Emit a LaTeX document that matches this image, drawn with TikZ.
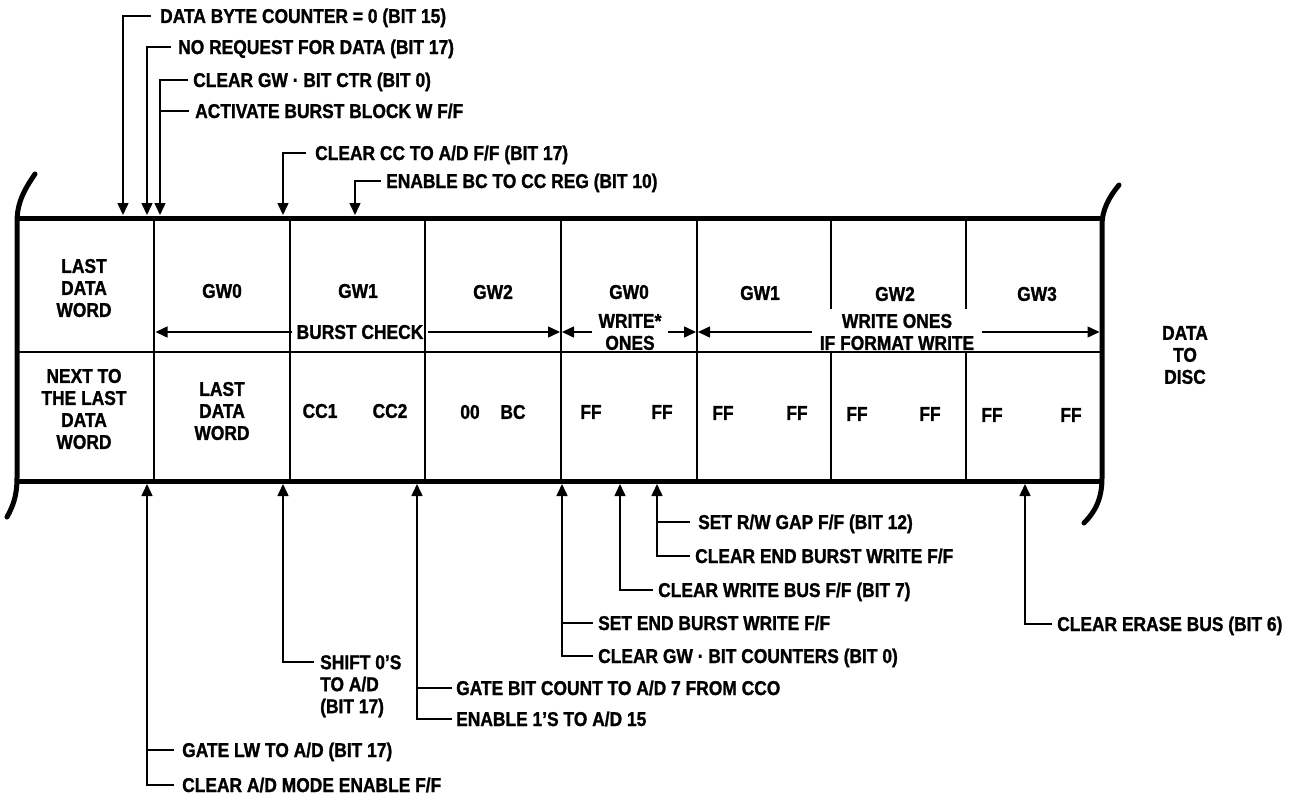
\documentclass[tikz,border=0pt]{standalone}
\usepackage{fontspec}
\setmainfont{Liberation Sans}[FakeStretch=0.87, BoldFeatures={FakeBold=1.2}]
\usetikzlibrary{arrows.meta}
\begin{document}
\begin{tikzpicture}[x=1pt,y=-1pt,
  every node/.style={font=\fontsize{20}{22}\selectfont\bfseries, inner sep=0pt},
  lbl/.style={anchor=west, text height=14pt, text depth=0pt},
  conn/.style={line width=1.5pt},
  arr/.style={conn, -{Triangle[length=12pt,width=11pt]}},
  frame/.style={line width=5pt},
  thinline/.style={line width=1.3pt}]
\useasboundingbox (0,0) rectangle (1294,803);

% ---- frame ----
\draw[frame, line cap=round] (35,174) .. controls (24,190) and (17,203) .. (17,222) -- (17,478) .. controls (17,496) and (13,506) .. (7,517);
\draw[frame, line cap=round] (1119,185) .. controls (1109,197) and (1102,210) .. (1102,225) -- (1102,478) .. controls (1102,499) and (1095,512) .. (1084,523);
\draw[frame] (17,218) -- (1102,218);
\draw[frame] (17,481) -- (1102,481);
\draw[thinline] (17,352) -- (1102,352);
\foreach \x in {154,290,425,561,697} \draw[thinline] (\x,218) -- (\x,481);
\foreach \x in {831,966} {\draw[thinline] (\x,218) -- (\x,309); \draw[thinline] (\x,352) -- (\x,481);}

% ---- cells, upper row ----
\node[align=center] (u0) at (84,288) {LAST\\DATA\\WORD};
\node (u1) at (222,291) {GW0};
\node (u2) at (358,291) {GW1};
\node (u3) at (493,292) {GW2};
\node (u4) at (629,292) {GW0};
\node (u5) at (760,293) {GW1};
\node (u6) at (895,294) {GW2};
\node (u7) at (1037,294) {GW3};

% ---- cells, lower row ----
\node[align=center] (l0) at (84,409) {NEXT TO\\THE LAST\\DATA\\WORD};
\node[align=center] (l1) at (222,411) {LAST\\DATA\\WORD};
\node (l2a) at (320,411) {CC1};
\node (l2b) at (390,411) {CC2};
\node (l3a) at (470,412) {00};
\node (l3b) at (513,412) {BC};
\node (l4a) at (591,412) {FF};
\node (l4b) at (662,412) {FF};
\node (l5a) at (723,413) {FF};
\node (l5b) at (797,413) {FF};
\node (l6a) at (857,414) {FF};
\node (l6b) at (930,414) {FF};
\node (l7a) at (992,415) {FF};
\node (l7b) at (1071,415) {FF};

\node[align=center] (dtd) at (1185,355) {DATA\\TO\\DISC};

% ---- span arrows in upper row ----
\node[inner xsep=4pt] (bc) at (360,332) {BURST CHECK};
\coordinate (c1) at (155.5,332);
\coordinate (c2) at (560,332);
\draw[arr] (bc.west) -- (c1);
\draw[arr] (bc.east) -- (c2);

\node[align=center, inner xsep=6pt] (wo) at (630,332) {WRITE*\\ONES};
\coordinate (c3) at (562,332);
\coordinate (c4) at (696,332);
\draw[arr] (wo.west) -- (c3);
\draw[arr] (wo.east) -- (c4);

\node[align=center, inner xsep=8pt] (wf) at (897,332) {WRITE ONES\\IF FORMAT WRITE};
\coordinate (c5) at (698,332);
\coordinate (c6) at (1099.5,332);
\draw[arr] (wf.west) -- (c5);
\draw[arr] (wf.east) -- (c6);

% ---- top labels ----
\node[lbl] (a1) at (160,16) {DATA BYTE COUNTER = 0 (BIT 15)};
\node[lbl] (a2) at (178,47) {NO REQUEST FOR DATA (BIT 17)};
\node[lbl] (a3) at (193,80) {CLEAR GW · BIT CTR (BIT 0)};
\node[lbl] (a4) at (195,111) {ACTIVATE BURST BLOCK W F/F};
\node[lbl] (a5) at (315,153) {CLEAR CC TO A/D F/F (BIT 17)};
\node[lbl] (a6) at (386,181) {ENABLE BC TO CC REG (BIT 10)};
\coordinate (ta1) at (123,215);
\coordinate (ta2) at (147,215);
\coordinate (ta3) at (160,215);
\coordinate (ta5) at (283,215);
\coordinate (ta6) at (355,215);
\draw[arr] ([xshift=-9pt]a1.west) -| (ta1);
\draw[arr] ([xshift=-7pt]a2.west) -| (ta2);
\draw[arr] ([xshift=-5pt]a3.west) -| (ta3);
\draw[conn] ([xshift=-6pt]a4.west) -- (a4.west -| ta3);
\draw[arr] ([xshift=-9pt]a5.west) -| (ta5);
\draw[arr] ([xshift=-5pt]a6.west) -| (ta6);

% ---- bottom labels ----
\node[lbl] (b1) at (182,750) {GATE LW TO A/D (BIT 17)};
\node[lbl] (b2) at (182,785) {CLEAR A/D MODE ENABLE F/F};
\node[anchor=north west, align=left] (b3) at (320,655) {SHIFT 0'S\\TO A/D\\(BIT 17)};
\node[lbl] (b4) at (456,688) {GATE BIT COUNT TO A/D 7 FROM CCO};
\node[lbl] (b5) at (456,719) {ENABLE 1'S TO A/D 15};
\node[lbl] (b6) at (598,623) {SET END BURST WRITE F/F};
\node[lbl] (b7) at (598,656) {CLEAR GW · BIT COUNTERS (BIT 0)};
\node[lbl] (b8) at (658,590) {CLEAR WRITE BUS F/F (BIT 7)};
\node[lbl] (b9) at (698,522) {SET R/W GAP F/F (BIT 12)};
\node[lbl] (b10) at (695,556) {CLEAR END BURST WRITE F/F};
\node[lbl] (b11) at (1057,624) {CLEAR ERASE BUS (BIT 6)};
\coordinate (tb1) at (147,484);
\coordinate (tb2) at (283,484);
\coordinate (tb3) at (417,484);
\coordinate (tb4) at (562,484);
\coordinate (tb5) at (620,484);
\coordinate (tb6) at (657,484);
\coordinate (tb7) at (1025,484);
\draw[arr] ([xshift=-8pt]b2.west) -| (tb1);
\draw[conn] ([xshift=-8pt]b1.west) -- (b1.west -| tb1);
\draw[arr] ([xshift=-6pt,yshift=-7pt]b3.north west) -| (tb2);
\draw[arr] ([xshift=-4pt]b5.west) -| (tb3);
\draw[conn] ([xshift=-4pt]b4.west) -- (b4.west -| tb3);
\draw[arr] ([xshift=-5pt]b7.west) -| (tb4);
\draw[conn] ([xshift=-5pt]b6.west) -- (b6.west -| tb4);
\draw[arr] ([xshift=-5pt]b8.west) -| (tb5);
\draw[arr] ([xshift=-5pt]b10.west) -| (tb6);
\draw[conn] ([xshift=-8pt]b9.west) -- (b9.west -| tb6);
\draw[arr] ([xshift=-5pt]b11.west) -| (tb7);
\end{tikzpicture}
\end{document}
